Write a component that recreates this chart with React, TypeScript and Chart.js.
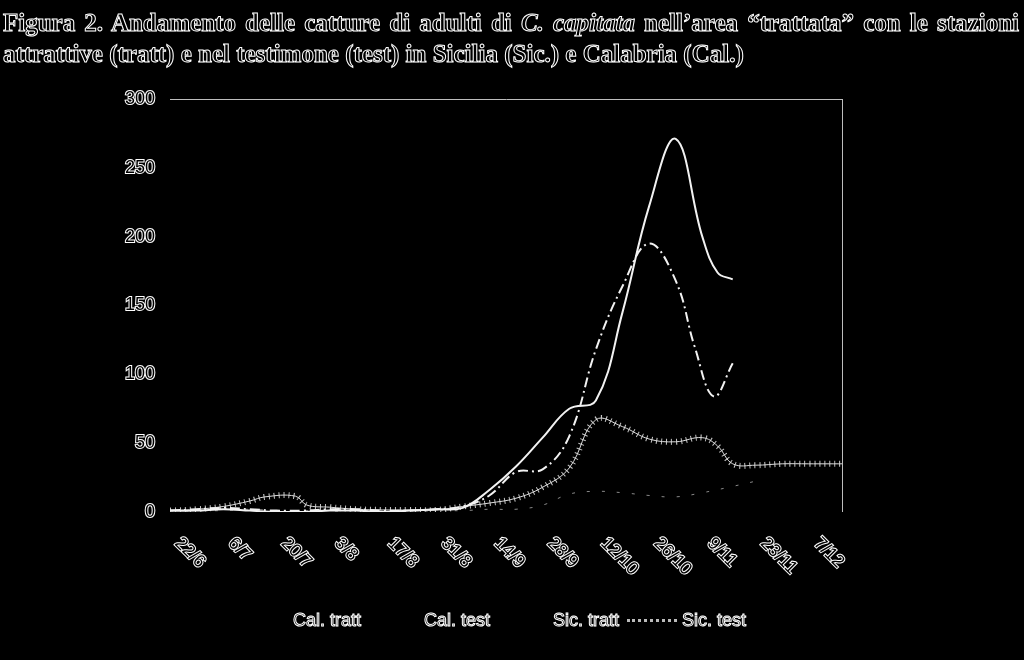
import React, { useEffect, useRef } from "react";
import { Chart, registerables } from "chart.js";

Chart.register(...registerables);

// ---- data (days counted from 22/6) ----
const xTickDays = [0, 14, 28, 42, 56, 70, 84, 98, 112, 126, 140, 154, 168];
const xTickLabels = ["22/6", "6/7", "20/7", "3/8", "17/8", "31/8", "14/9", "28/9", "12/10", "26/10", "9/11", "23/11", "7/12"];

const calTrattDays = [0, 7, 14, 21, 28, 35, 42, 49, 56, 63, 70, 77, 84, 91, 98, 105, 112, 119, 126, 133, 140, 144, 148];
const calTrattValues = [1, 1, 2, 1, 0, 0, 1, 1, 0, 1, 2, 3, 16, 33, 54, 75, 81, 145, 222, 271, 200, 174, 169];

const calTestDays = [0, 7, 14, 21, 28, 35, 42, 49, 56, 63, 70, 77, 84, 91, 98, 105, 112, 119, 126, 133, 138, 143, 148];
const calTestValues = [1, 2, 3, 2, 1, 1, 2, 2, 1, 1, 2, 4, 12, 29, 31, 55, 118, 164, 195, 168, 120, 84, 108];

const sicTrattDays = [0, 7, 14, 21, 28, 35, 42, 49, 56, 63, 70, 77, 84, 91, 98, 105, 112, 119, 126, 133, 140, 147, 155];
const sicTrattValues = [0, 1, 1, 2, 1, 1, 0, 1, 1, 0, 1, 1, 2, 2, 5, 13, 15, 14, 12, 11, 14, 18, 23];

const sicTestDays = [0, 7, 14, 21, 25, 33, 36, 42, 49, 56, 63, 70, 77, 84, 91, 98, 105, 112, 119, 126, 133, 140, 144, 148, 154, 161, 168, 177];
const sicTestValues = [1, 2, 4, 8, 11, 11.5, 5, 3.5, 2, 1.5, 1.5, 1.5, 4, 6.5, 10, 18, 32, 67, 62, 53, 51, 54, 48, 35, 34, 35, 35, 35];

const seriesNames = ["Cal. tratt", "Cal. test", "Sic. tratt", "Sic. test"];

const toPoints = (days: number[], values: number[]) => days.map((d, i) => ({ x: d, y: values[i] }));

const SANS = '"Liberation Sans", Arial, sans-serif';

const framePlugin = {
  id: "frameAndLabels",
  afterDraw(chart: any) {
    const { ctx, chartArea } = chart;
    const { left, right, top, bottom } = chartArea;
    ctx.save();
    ctx.strokeStyle = "#bdbdbd";
    ctx.lineWidth = 1;
    ctx.beginPath();
    ctx.moveTo(left, top + 0.5);
    ctx.lineTo(right, top + 0.5);
    ctx.moveTo(right - 0.5, top);
    ctx.lineTo(right - 0.5, bottom);
    ctx.stroke();

    const xs = chart.scales.x;
    ctx.font = `18px ${SANS}`;
    ctx.textAlign = "left";
    ctx.textBaseline = "top";
    ctx.strokeStyle = "#fff";
    ctx.fillStyle = "#000";
    ctx.lineWidth = 2;
    xTickDays.forEach((d, i) => {
      const px = xs.getPixelForValue(d);
      ctx.save();
      ctx.translate(px + 14, bottom + 22);
      ctx.rotate(Math.PI / 4);
      ctx.strokeText(xTickLabels[i], 0, 0);
      ctx.fillText(xTickLabels[i], 0, 0);
      ctx.restore();
    });
    ctx.restore();
  },
};

const outline: React.CSSProperties = {
  color: "#000",
  WebkitTextStroke: "1px #fff",
};

export default function App() {
  const ref = useRef<HTMLCanvasElement | null>(null);

  useEffect(() => {
    if (!ref.current) return;
    const chart = new Chart(ref.current, {
      type: "line",
      data: {
        datasets: [
          {
            label: seriesNames[0],
            data: toPoints(calTrattDays, calTrattValues),
            borderColor: "#f2f2f2",
            borderWidth: 2,
            tension: 0.4,
            pointRadius: 0,
          },
          {
            label: seriesNames[1],
            data: toPoints(calTestDays, calTestValues),
            borderColor: "#f2f2f2",
            borderWidth: 2,
            borderDash: [10, 4, 2, 4],
            tension: 0.4,
            pointRadius: 0,
          },
          {
            label: seriesNames[2],
            data: toPoints(sicTrattDays, sicTrattValues),
            borderColor: "#8a8a8a",
            borderWidth: 1,
            borderDash: [3, 12],
            tension: 0.4,
            pointRadius: 0,
          },
          {
            label: seriesNames[3],
            data: toPoints(sicTestDays, sicTestValues),
            borderColor: "#dcdcdc",
            borderWidth: 1,
            tension: 0.4,
            pointRadius: 0,
          },
          {
            label: seriesNames[3] + " (ticks)",
            data: toPoints(sicTestDays, sicTestValues),
            borderColor: "#c8c8c8",
            borderWidth: 6,
            borderDash: [1, 4],
            borderCapStyle: "butt",
            tension: 0.4,
            pointRadius: 0,
          },
        ],
      },
      options: {
        animation: false,
        responsive: false,
        maintainAspectRatio: false,
        layout: { padding: { left: 0, top: 99, right: 181, bottom: 148 } },
        plugins: {
          legend: { display: false },
          title: { display: false },
          tooltip: { enabled: false },
        },
        scales: {
          x: {
            type: "linear",
            min: 0,
            max: 177,
            display: false,
          },
          y: {
            min: 0,
            max: 300,
            ticks: {
              stepSize: 50,
              color: "#000",
              textStrokeColor: "#fff",
              textStrokeWidth: 2,
              padding: 15,
              font: { size: 18, family: SANS },
            },
            grid: { display: false, drawTicks: false },
            border: { display: false },
            afterFit(scale: any) {
              scale.width = 170;
            },
          },
        },
      },
      plugins: [framePlugin],
    } as any);
    return () => chart.destroy();
  }, []);

  const legendItem = (name: string, sample: React.ReactNode) => (
    <div key={name} style={{ display: "flex", alignItems: "center", marginRight: 8 }}>
      <div style={{ width: 50, height: 6, marginRight: 5, display: "flex", alignItems: "center" }}>{sample}</div>
      <span style={{ ...outline, fontFamily: SANS, fontSize: 18, whiteSpace: "nowrap" }}>{name}</span>
    </div>
  );

  return (
    <div style={{ position: "fixed", left: 0, top: 0, width: 1024, height: 660, background: "#000", overflow: "hidden" }}>
      <canvas ref={ref} width={1024} height={660} style={{ position: "absolute", left: 0, top: 0, width: 1024, height: 660 }} />
      <div
        style={{
          ...outline,
          position: "absolute",
          left: 3,
          top: 7,
          width: 1016,
          fontFamily: '"Liberation Serif", "Times New Roman", serif',
          fontSize: 25,
          fontWeight: "bold",
          lineHeight: "31px",
        }}
      >
        <div style={{ textAlign: "justify", textAlignLast: "justify", whiteSpace: "normal" }}>
          Figura 2. Andamento delle catture di adulti di <i>C. capitata</i> nell’area “trattata” con le stazioni
        </div>
        <div style={{ whiteSpace: "nowrap" }}>
          attrattive (tratt) e nel testimone (test) in Sicilia (Sic.) e Calabria (Cal.)
        </div>
      </div>
      <div style={{ position: "absolute", left: 238, top: 610, display: "flex", alignItems: "center" }}>
        {legendItem(seriesNames[0], null)}
        {legendItem(seriesNames[1], null)}
        {legendItem(seriesNames[2], null)}
        {legendItem(
          seriesNames[3],
          <div style={{ width: 50, height: 0, borderTop: "3px dotted #bbb" }} />
        )}
      </div>
    </div>
  );
}
